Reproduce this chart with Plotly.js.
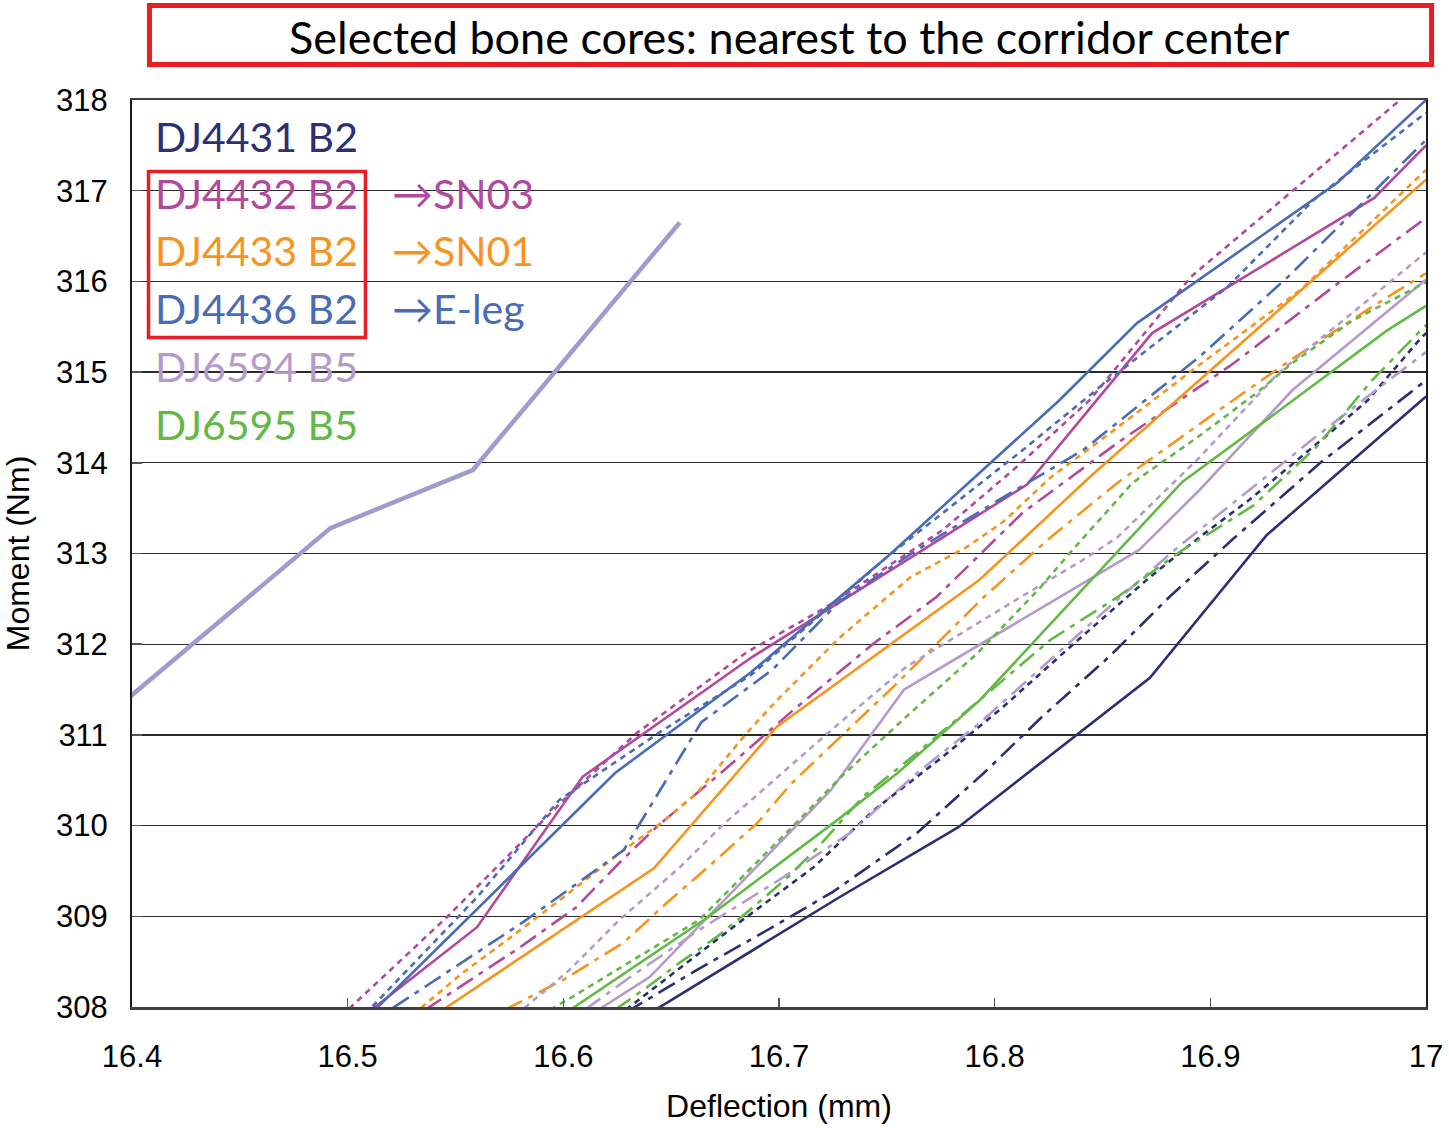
<!DOCTYPE html>
<html>
<head>
<meta charset="utf-8">
<script src="https://cdn.plot.ly/plotly-3.0.1.min.js"></script>
<style>html,body{margin:0;padding:0;background:#fff;}#chart{width:1449px;height:1128px;}</style>
</head>
<body>
<div id="chart"></div>
<script>
// ---- Data (Deflection mm, Moment Nm) ----
const samples = ["DJ4431 B2", "DJ4432 B2", "DJ4433 B2", "DJ4436 B2", "DJ6594 B5", "DJ6595 B5"];
const sampleColors = ["#2b2f73", "#b2499c", "#f7941d", "#4a6bb6", "#b49bcb", "#62b946"];
const arrowLabels = ["", "→SN03", "→SN01", "→E-leg", "", ""];

// DJ4431 B2 (navy)
const dj4431_solid_x = [16.640, 16.728, 16.783, 16.872, 16.926, 17.000];
const dj4431_solid_y = [307.93, 309.21, 309.98, 311.63, 313.20, 314.73];
const dj4431_dot_x = [16.629, 16.654, 16.682, 16.716, 16.744, 16.776, 16.804, 16.835, 16.872, 16.895, 16.918, 16.956, 16.973, 16.996, 17.000];
const dj4431_dot_y = [307.97, 308.43, 308.94, 309.54, 310.17, 310.76, 311.31, 311.97, 312.74, 313.18, 313.59, 314.34, 314.69, 315.33, 315.43];
const dj4431_dashdot_x = [16.629, 16.662, 16.697, 16.725, 16.764, 16.795, 16.822, 16.853, 16.881, 16.911, 16.951, 16.988, 17.000];
const dj4431_dashdot_y = [307.94, 308.41, 308.88, 309.27, 309.92, 310.58, 311.20, 311.86, 312.52, 313.17, 314.00, 314.69, 314.91];

// DJ4432 B2 (magenta)
const dj4432_solid_x = [16.510, 16.560, 16.609, 16.687, 16.815, 16.873, 16.976, 17.000];
const dj4432_solid_y = [307.95, 308.88, 310.54, 311.85, 313.76, 315.43, 316.92, 317.50];
const dj4432_dot_x = [16.497, 16.546, 16.600, 16.634, 16.685, 16.722, 16.776, 16.810, 16.844, 16.891, 16.988, 17.000];
const dj4432_dot_y = [307.90, 308.99, 310.28, 311.02, 311.91, 312.41, 313.26, 313.95, 314.69, 316.05, 318.00, 318.24];
const dj4432_dashdot_x = [16.536, 16.580, 16.606, 16.626, 16.643, 16.673, 16.705, 16.744, 16.773, 16.813, 16.857, 16.911, 16.957, 17.000];
const dj4432_dashdot_y = [307.97, 308.66, 309.10, 309.59, 309.98, 310.58, 311.24, 312.01, 312.52, 313.45, 314.22, 315.10, 315.94, 316.70];

// DJ4433 B2 (orange)
const dj4433_solid_x = [16.543, 16.608, 16.642, 16.699, 16.793, 16.844, 16.900, 16.949, 17.000];
const dj4433_solid_y = [307.95, 308.99, 309.53, 311.09, 312.71, 313.84, 315.02, 316.05, 317.12];
const dj4433_dot_x = [16.534, 16.553, 16.574, 16.600, 16.628, 16.646, 16.662, 16.685, 16.699, 16.728, 16.761, 16.787, 16.804, 16.826, 16.857, 16.895, 16.942, 17.000];
const dj4433_dot_y = [307.99, 308.37, 308.74, 309.21, 309.73, 310.04, 310.36, 311.02, 311.38, 312.07, 312.74, 313.07, 313.35, 313.84, 314.39, 315.08, 315.91, 317.23];
const dj4433_dashdot_x = [16.573, 16.600, 16.628, 16.648, 16.667, 16.690, 16.706, 16.753, 16.795, 16.826, 16.857, 16.904, 16.937, 16.975, 17.000];
const dj4433_dashdot_y = [307.97, 308.30, 308.71, 309.15, 309.54, 310.03, 310.47, 311.53, 312.52, 313.18, 313.78, 314.58, 315.13, 315.72, 316.09];

// DJ4436 B2 (blue)
const dj4436_solid_x = [16.514, 16.624, 16.687, 16.751, 16.830, 16.866, 16.959, 17.000];
const dj4436_solid_y = [308.00, 310.58, 311.69, 312.98, 314.69, 315.54, 317.09, 318.00];
const dj4436_dot_x = [16.508, 16.560, 16.598, 16.646, 16.687, 16.751, 16.813, 16.849, 16.908, 16.948, 17.000];
const dj4436_dot_y = [307.92, 309.21, 310.28, 311.05, 311.66, 312.98, 314.14, 314.84, 315.94, 316.90, 317.86];
const dj4436_dashdot_x = [16.521, 16.581, 16.628, 16.664, 16.697, 16.728, 16.764, 16.804, 16.841, 16.895, 16.936, 16.977, 17.000];
const dj4436_dashdot_y = [307.99, 308.93, 309.73, 311.14, 311.72, 312.47, 313.04, 313.62, 314.14, 315.17, 316.05, 317.01, 317.56];

// DJ6594 B5 (lavender)
const dj6594_solid_x = [16.615, 16.640, 16.724, 16.758, 16.867, 16.895, 16.938, 17.000];
const dj6594_solid_y = [307.95, 308.33, 310.39, 311.50, 313.04, 313.70, 314.80, 316.02];
const dj6594_dot_x = [16.582, 16.602, 16.626, 16.654, 16.674, 16.728, 16.759, 16.810, 16.841, 16.857, 16.895, 16.932, 16.960, 17.000];
const dj6594_dot_y = [307.99, 308.39, 308.96, 309.54, 310.01, 311.13, 311.75, 312.49, 312.93, 313.18, 314.06, 315.00, 315.54, 316.32];
const dj6594_dashdot_x = [16.610, 16.631, 16.663, 16.700, 16.733, 16.764, 16.793, 16.824, 16.855, 16.885, 16.917, 16.948, 16.980, 17.000];
const dj6594_dashdot_y = [307.97, 308.33, 308.85, 309.40, 309.92, 310.58, 311.13, 311.79, 312.45, 313.07, 313.68, 314.27, 314.86, 315.22];

// DJ6595 B5 (green)
const dj6595_solid_x = [16.602, 16.667, 16.727, 16.755, 16.793, 16.829, 16.887, 16.926, 16.982, 17.000];
const dj6595_solid_y = [307.95, 308.99, 310.06, 310.58, 311.38, 312.30, 313.79, 314.47, 315.46, 315.73];
const dj6595_dot_x = [16.594, 16.602, 16.663, 16.708, 16.728, 16.759, 16.792, 16.821, 16.835, 16.864, 16.894, 16.922, 16.938, 16.966, 17.000];
const dj6595_dot_y = [307.97, 308.08, 308.96, 310.03, 310.52, 311.20, 311.90, 312.62, 313.01, 313.78, 314.28, 314.78, 315.10, 315.57, 315.99];
const dj6595_dashdot_x = [16.624, 16.639, 16.654, 16.671, 16.688, 16.704, 16.718, 16.739, 16.764, 16.793, 16.826, 16.857, 16.886, 16.920, 16.949, 16.975, 17.000];
const dj6595_dashdot_y = [307.97, 308.22, 308.49, 308.77, 309.10, 309.43, 309.76, 310.32, 310.80, 311.38, 312.05, 312.52, 313.02, 313.53, 314.17, 314.91, 315.52];

// Separate thick reference curve (upper left)
const ref_x = [16.390, 16.400, 16.492, 16.558, 16.654];
const ref_y = [311.24, 311.44, 313.28, 313.92, 316.65];

const xTicks = [16.4, 16.5, 16.6, 16.7, 16.8, 16.9, 17];
const yTicks = [308, 309, 310, 311, 312, 313, 314, 315, 316, 317, 318];
const chartTitle = "Selected bone cores: nearest to the corridor center";
const xTitle = "Deflection (mm)";
const yTitle = "Moment (Nm)";

// ---- Build traces ----
const styleDash = { solid: "solid", dot: "6px,5px", dashdot: "19px,7px,5px,7px" };
const seriesData = [
  [dj4431_solid_x, dj4431_solid_y, dj4431_dot_x, dj4431_dot_y, dj4431_dashdot_x, dj4431_dashdot_y],
  [dj4432_solid_x, dj4432_solid_y, dj4432_dot_x, dj4432_dot_y, dj4432_dashdot_x, dj4432_dashdot_y],
  [dj4433_solid_x, dj4433_solid_y, dj4433_dot_x, dj4433_dot_y, dj4433_dashdot_x, dj4433_dashdot_y],
  [dj4436_solid_x, dj4436_solid_y, dj4436_dot_x, dj4436_dot_y, dj4436_dashdot_x, dj4436_dashdot_y],
  [dj6594_solid_x, dj6594_solid_y, dj6594_dot_x, dj6594_dot_y, dj6594_dashdot_x, dj6594_dashdot_y],
  [dj6595_solid_x, dj6595_solid_y, dj6595_dot_x, dj6595_dot_y, dj6595_dashdot_x, dj6595_dashdot_y]
];
const traces = [];
traces.push({
  x: ref_x, y: ref_y, mode: "lines", type: "scatter",
  line: { color: "#9d9bd0", width: 4.5 }, name: "reference", hoverinfo: "skip"
});
const styles = ["dashdot", "dot", "solid"];
seriesData.forEach((s, i) => {
  const pairs = { solid: [s[0], s[1]], dot: [s[2], s[3]], dashdot: [s[4], s[5]] };
  styles.forEach(st => {
    traces.push({
      x: pairs[st][0], y: pairs[st][1], mode: "lines", type: "scatter",
      name: samples[i] + " " + st,
      line: { color: sampleColors[i], width: 2.6, dash: styleDash[st] }
    });
  });
});

// ---- Legend-like annotations ----
const legendY = [0.960, 0.897, 0.834, 0.770, 0.706, 0.642];
const annotations = [];
samples.forEach((s, i) => {
  annotations.push({
    xref: "paper", yref: "paper", x: 0.0162, y: legendY[i], xanchor: "left", yanchor: "middle",
    text: s, showarrow: false, font: { family: "Lato, 'Open Sans', sans-serif", size: 41, color: sampleColors[i] }
  });
  if (arrowLabels[i]) {
    annotations.push({
      xref: "paper", yref: "paper", x: 0.1994, y: legendY[i], xanchor: "left", yanchor: "middle",
      text: arrowLabels[i], showarrow: false, font: { family: "Lato, 'Open Sans', sans-serif", size: 41, color: sampleColors[i] }
    });
  }
});
annotations.push({
  xref: "paper", yref: "paper", x: 0.5085, y: 1.0695, xanchor: "center", yanchor: "middle",
  text: chartTitle, showarrow: false, font: { family: "Lato, 'Open Sans', sans-serif", size: 45, color: "#000" }
});

const shapes = [
  { type: "rect", xref: "paper", yref: "paper", x0: 0.0135, x1: 1.0043, y0: 1.0391, y1: 1.1042,
    line: { color: "#ec1c24", width: 5 }, fillcolor: "rgba(0,0,0,0)" },
  { type: "rect", xref: "paper", yref: "paper", x0: 0.01275, x1: 0.1804, y0: 0.7382, y1: 0.9212,
    line: { color: "#ec1c24", width: 3.5 }, fillcolor: "rgba(0,0,0,0)" }
];

const layout = {
  width: 1449, height: 1128,
  margin: { l: 132, r: 23, t: 100, b: 121, pad: 0 },
  paper_bgcolor: "#fff", plot_bgcolor: "#fff",
  showlegend: false,
  font: { family: "'Liberation Sans', Arial, sans-serif", color: "#000" },
  xaxis: {
    range: [16.4, 17], tickvals: xTicks, ticktext: xTicks.map(String),
    ticks: "inside", ticklen: 9, tickwidth: 1.5, tickcolor: "#555",
    showgrid: false, zeroline: false,
    showline: true, linecolor: "#404040", linewidth: 2.5, mirror: true,
    tickfont: { size: 31, family: "'Liberation Sans', Arial, sans-serif" },
    ticklabelstandoff: 20,
    title: { text: xTitle, font: { size: 32, family: "'Liberation Sans', Arial, sans-serif" }, standoff: 22 }
  },
  yaxis: {
    range: [308, 318], tickvals: yTicks,
    ticks: "inside", ticklen: 10, tickwidth: 1.5, tickcolor: "#555",
    showgrid: true, gridcolor: "#2a2a2a", gridwidth: 1.3, zeroline: false,
    showline: true, linecolor: "#1a1a1a", linewidth: 2, mirror: true,
    tickfont: { size: 31, family: "'Liberation Sans', Arial, sans-serif" },
    ticklabelstandoff: 16,
    title: { text: yTitle, font: { size: 32, family: "'Liberation Sans', Arial, sans-serif" }, standoff: 18 }
  },
  annotations: annotations,
  shapes: shapes
};

Plotly.newPlot("chart", traces, layout, { displayModeBar: false, staticPlot: true });
</script>
</body>
</html>
